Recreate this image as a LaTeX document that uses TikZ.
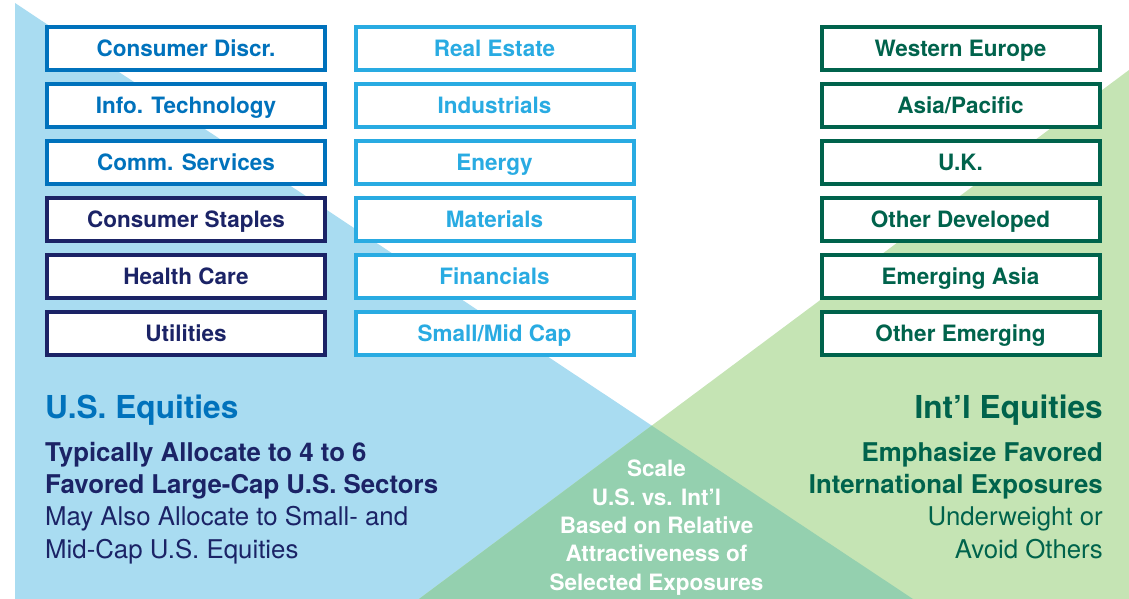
\documentclass[tikz,border=0pt]{standalone}
\usepackage{fontspec}
\setmainfont{TeX Gyre Heros}
\usetikzlibrary{positioning}

\definecolor{usbg}{HTML}{A9DCF1}
\definecolor{intbg}{HTML}{C5E4B4}
\definecolor{mixbg}{HTML}{94D0AF}
\definecolor{usblue}{HTML}{0072BC}
\definecolor{usnavy}{HTML}{1B2366}
\definecolor{uslight}{HTML}{29ABE2}
\definecolor{intgreen}{HTML}{00634C}

\tikzset{
  sector/.style={draw=#1, fill=white, text=#1, line width=4pt,
    minimum width=278pt, minimum height=43pt, inner sep=0pt,
    text height=16pt, text depth=0pt,
    font=\bfseries\fontsize{22.5}{26}\selectfont},
  headline/.style={inner sep=0pt, font=\bfseries\fontsize{31.6}{36}\selectfont},
  blurb/.style={inner sep=0pt, font=\fontsize{25.8}{32.2}\selectfont}
}

\begin{document}
\begin{tikzpicture}[x=1pt, y=-1pt]
\useasboundingbox (0,0) rectangle (1129,599);

% background wedges
\coordinate (usTop) at (15,3);
\coordinate (usEnd) at (913,599);
\coordinate (usCorner) at (15,599);
\coordinate (intTop) at (1129,70);
\coordinate (intEnd) at (419,599);
\coordinate (intCorner) at (1129,599);
\coordinate (meet) at (intersection of usTop--usEnd and intTop--intEnd);
\fill[usbg] (usTop) -- (usEnd) -- (usCorner) -- cycle;
\fill[intbg] (intTop) -- (intCorner) -- (intEnd) -- cycle;
\fill[mixbg] (meet) -- (usEnd) -- (intEnd) -- cycle;

% sector boxes
\foreach \name/\txt/\col [count=\i] in {cd/Consumer Discr./usblue, it/Info. Technology/usblue,
    cs/Comm. Services/usblue, st/Consumer Staples/usnavy, hc/Health Care/usnavy, ut/Utilities/usnavy}
  \node[sector=\col] (\name) at (186,{48.5+57*(\i-1)}) {\txt};
\foreach \name/\txt [count=\i] in {re/Real Estate, in/Industrials, en/Energy, ma/Materials,
    fi/Financials, sm/{Small/Mid Cap}}
  \node[sector=uslight] (\name) at (494.5,{48.5+57*(\i-1)}) {\txt};
\foreach \name/\txt [count=\i] in {we/Western Europe, ap/{Asia/Pacific}, uk/U.K.,
    od/Other Developed, ea/Emerging Asia, oe/Other Emerging}
  \node[sector=intgreen] (\name) at (960.5,{48.5+57*(\i-1)}) {\txt};

% captions (multi-line nodes sit on their last baseline)
\node[headline, anchor=base west, text=usblue] (ushead) at (45,418) {U.S. Equities};
\node[blurb, anchor=base west, align=left, text=usnavy] (usnote) at (45,558)
  {\textbf{Typically Allocate to 4 to 6}\\\textbf{Favored Large-Cap U.S. Sectors}\\
   May Also Allocate to Small- and\\Mid-Cap U.S. Equities};
\node[headline, anchor=base east, text=intgreen] (inthead) at (1103,418) {Int’l Equities};
\node[blurb, anchor=base east, align=right, text=intgreen] (intnote) at (1103,558)
  {\textbf{Emphasize Favored}\\\textbf{International Exposures}\\
   Underweight or\\Avoid Others};
\node[inner sep=0pt, anchor=base, align=center, text=white,
  font=\bfseries\fontsize{22.5}{28.3}\selectfont] (scale) at (656.5,590)
  {Scale\\U.S. vs. Int’l\\Based on Relative\\Attractiveness of\\Selected Exposures};
\end{tikzpicture}
\end{document}
